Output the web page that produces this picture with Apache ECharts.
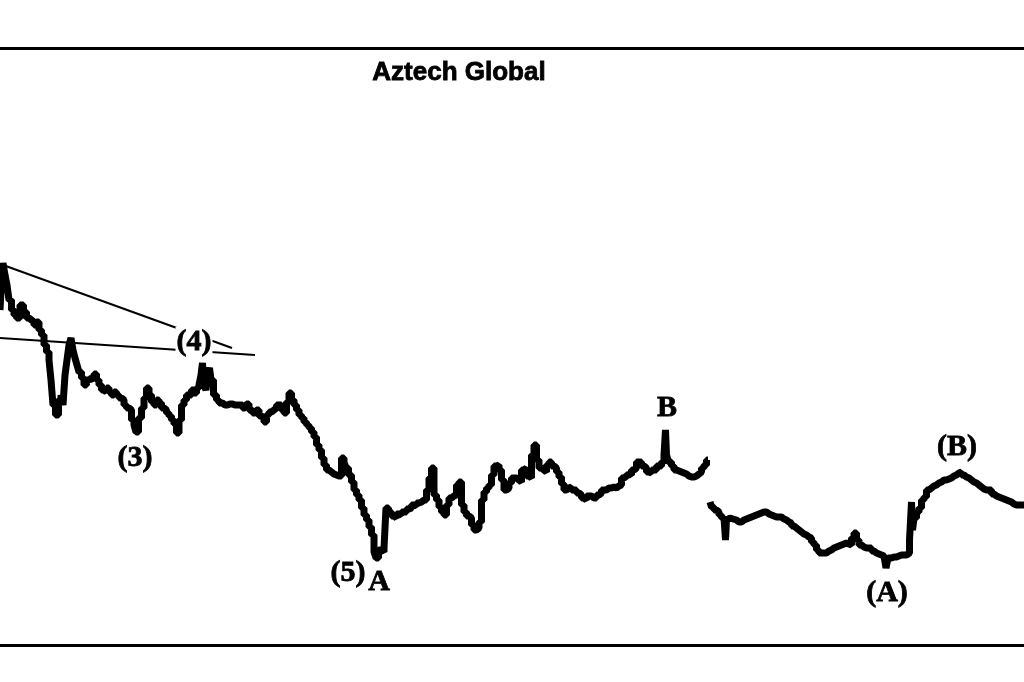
<!DOCTYPE html>
<html>
<head>
<meta charset="utf-8">
<script src="https://cdn.jsdelivr.net/npm/echarts@6/dist/echarts.min.js"></script>
<style>
html,body{margin:0;padding:0;background:#fff;}
#chart{width:1024px;height:682px;}
</style>
</head>
<body>
<div id="chart"></div>
<script>
// Sessions (x) and price levels
const wave1Days = [0,2,4,6,8,10,13,15,18,22,25,28,30,33,35,38,40,43,45,48,50,52,54,57,60,62,64,66,68,70,72,74,76,78,80,83,85,88,90,93,95,98,100,103,105,108,110,113,115,118,120,123,125,128,130,133,135,137,140,143,145,148,150,153,155,158,160,163,165,168,170,173,175,178,180,183,185,188,190,193,195,198,200,202,203,205,207,209,210,212,215,218,220,225,230,235,240,245,248,250,255,258,260,263,265,268,270,273,275,278,280,283,285,288,290,293,295,298,300,303,305,308,310,313,315,318,320,323,325,328,330,333,335,338,340,343,345,347,350,353,355,358,360,363,365,368,370,373,375,377,380,383,385,387,390,393,395,398,400,403,405,408,410,413,415,418,420,423,425,428,430,433,435,438,440,443,445,448,450,453,455,458,460,463,465,468,470,473,475,478,480,483,485,488,490,493,495,498,500,503,505,508,510,513,515,518,520,523,525,528,530,533,535,538,540,543,545,548,550,553,555,558,560,563,565,568,570,573,575,578,580,583,585,588,590,593,595,598,600,603,605,608,610,613,615,618,620,623,625,628,630,633,635,638,640,643,645,648,650,653,655,658,660,663,665,666,667,670,673,675,678,680,683,685,688,690,693,695,698,700,703,705,708];
const wave1Levels = [335,355,382,370,360,345,335,330,327,340,333,327,325,323,320,323,315,310,300,293,285,265,240,230,245,250,240,270,285,300,307,295,287,280,273,267,260,265,267,265,271,265,260,255,253,257,253,250,253,250,247,245,240,237,235,225,220,213,227,237,247,257,250,243,240,245,242,237,235,232,229,225,221,212,225,240,245,250,250,255,252,257,260,270,282,260,255,273,277,265,250,245,242,240,241,240,240,237,241,235,232,235,229,227,223,230,233,235,237,240,240,235,232,243,252,245,240,235,230,227,223,220,217,213,208,200,195,187,180,175,173,171,170,169,169,187,183,177,170,163,155,150,145,137,130,125,118,110,93,87,95,93,97,137,133,129,127,131,130,133,133,136,137,140,139,142,143,145,145,155,167,177,150,145,138,133,130,140,147,149,150,160,163,140,133,129,127,120,115,117,123,145,153,157,160,170,179,180,175,165,155,157,162,167,167,165,163,175,177,169,167,190,200,185,177,175,173,180,183,179,177,173,168,161,155,157,158,155,155,152,150,147,145,149,149,147,147,150,152,155,155,157,157,158,157,159,160,167,169,171,170,175,177,183,183,179,177,173,172,175,175,179,179,183,190,215,190,183,179,175,174,173,172,171,169,168,168,169,171,173,177,180,185];

const wave2Days = [710,713,715,718,720,723,725,726,727,730,733,735,738,740,743,745,748,750,753,755,758,760,763,765,768,770,773,775,778,780,783,785,788,790,793,795,798,800,803,805,808,810,813,815,818,820,823,825,828,830,833,835,838,840,843,845,848,850,853,855,858,860,863,865,868,870,873,875,878,880,883,885,887,889,890,893,895,898,900,903,905,908,911,912,913,915,918,920,923,925,928,930,933,935,938,940,943,945,948,950,953,955,958,960,963,965,968,970,973,975,978,980,983,985,988,990,993,995,998,1000,1003,1005,1008,1010,1013,1015,1018,1020,1024];
const wave2Levels = [143,138,135,133,130,127,125,105,125,127,126,125,123,123,125,126,127,128,129,130,131,132,133,133,131,130,129,128,128,128,126,125,123,122,119,117,115,113,111,110,108,107,103,100,95,92,92,92,94,95,97,98,99,100,101,102,101,100,107,112,105,100,98,97,97,97,94,92,91,90,89,88,77,87,87,88,88,89,90,90,90,92,105,143,115,127,133,137,145,148,155,157,159,160,162,163,165,165,166,167,169,170,172,173,170,168,167,165,163,162,160,158,156,155,155,155,151,149,148,147,146,145,144,143,141,140,140,140,140];

// Converging trendlines
const upperLineDays = [3, 232];
const upperLineLevels = [380, 297];
const lowerLineDays = [0, 255];
const lowerLineLevels = [307, 290];

// Wave labels
const waveLabels = ['(3)', '(4)', '(5)', 'A', 'B', '(A)', '(B)'];
const waveLabelDays = [135, 194, 348, 379, 667, 887, 957];
const waveLabelLevels = [187, 303, 72, 63, 237, 52, 198];

const titleText = 'Aztech Global';

const zip = (xs, ys) => xs.map((x, i) => [x, ys[i]]);

const chart = echarts.init(document.getElementById('chart'), null, {renderer: 'canvas'});

const priceStyle = {
  type: 'line',
  step: 'middle',
  showSymbol: false,
  symbol: 'none',
  lineStyle: {color: '#000', width: 7, cap: 'butt', join: 'bevel'},
  z: 3,
  silent: true
};
const trendStyle = {
  type: 'line',
  showSymbol: false,
  symbol: 'none',
  lineStyle: {color: '#000', width: 2},
  z: 2,
  silent: true
};

chart.setOption({
  animation: false,
  backgroundColor: '#fff',
  title: {
    text: titleText,
    left: 454,
    top: 55,
    textAlign: 'center',
    textStyle: {fontFamily: 'Liberation Sans', fontWeight: 'bold', fontSize: 26, color: '#000',
      textBorderColor: '#000', textBorderWidth: 0.8}
  },
  grid: {left: 0, right: 0, top: 48, bottom: 37, containLabel: false},
  xAxis: [
    {type: 'value', min: 0, max: 1024, position: 'bottom',
      axisLine: {show: true, onZero: false, lineStyle: {color: '#000', width: 3}},
      axisTick: {show: false}, axisLabel: {show: false}, splitLine: {show: false}},
    {type: 'value', min: 0, max: 1024, position: 'top',
      axisLine: {show: true, onZero: false, lineStyle: {color: '#000', width: 3}},
      axisTick: {show: false}, axisLabel: {show: false}, splitLine: {show: false}}
  ],
  yAxis: {type: 'value', min: 0, max: 597, show: false},
  series: [
    Object.assign({data: zip(wave1Days, wave1Levels)}, priceStyle),
    Object.assign({data: zip(wave2Days, wave2Levels)}, priceStyle),
    Object.assign({data: zip(upperLineDays, upperLineLevels)}, trendStyle),
    Object.assign({data: zip(lowerLineDays, lowerLineLevels)}, trendStyle),
    {
      type: 'scatter',
      symbolSize: 0,
      z: 10,
      silent: true,
      itemStyle: {color: '#fff', opacity: 1},
      data: waveLabels.map((t, i) => ({value: [waveLabelDays[i], waveLabelLevels[i]], name: t})),
      label: {
        show: true,
        position: 'inside',
        formatter: p => p.name,
        fontFamily: 'Liberation Serif',
        fontWeight: 'bold',
        fontSize: 30,
        color: '#000',
        opacity: 1,
        textBorderColor: '#000',
        textBorderWidth: 0.8,
        backgroundColor: '#fff',
        padding: [0, 1]
      }
    }
  ]
});
</script>
</body>
</html>
